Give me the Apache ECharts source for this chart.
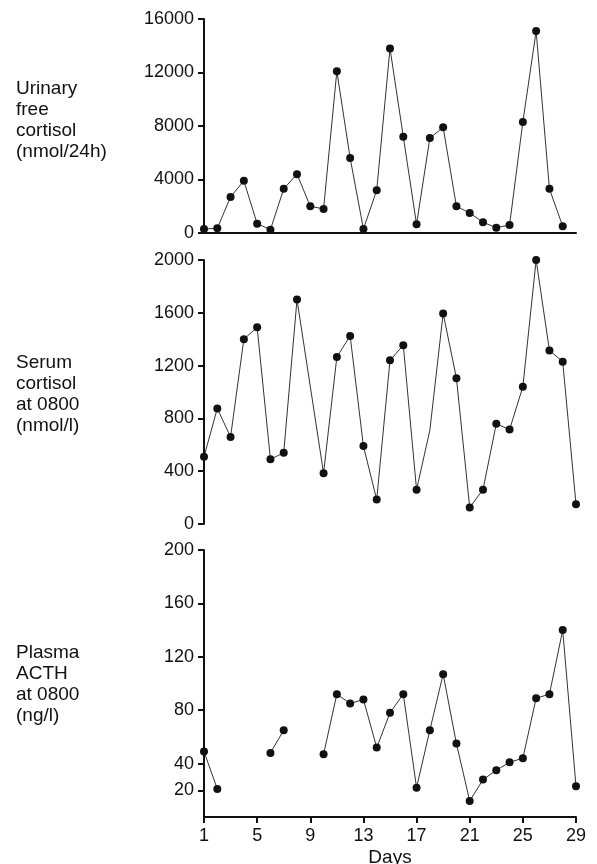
<!DOCTYPE html>
<html>
<head>
<meta charset="utf-8">
<script src="https://cdn.jsdelivr.net/npm/echarts@6/dist/echarts.min.js"></script>
<style>
html,body{margin:0;padding:0;background:#fff;}
#chart{width:597px;height:864px;}
</style>
</head>
<body>
<div id="chart"></div>
<script>
// ---- data ----
const days = [1,2,3,4,5,6,7,8,9,10,11,12,13,14,15,16,17,18,19,20,21,22,23,24,25,26,27,28,29];
const urinaryFreeCortisol = [300,350,2700,3900,700,250,3300,4400,2000,1800,12100,5600,300,3200,13800,7200,650,7100,7900,2000,1500,800,400,600,8300,15100,3300,500,null];
const serumCortisol = [510,875,660,1400,1490,490,540,1700,null,385,1265,1425,590,185,1240,1355,260,710,1595,1105,125,260,760,715,1040,2000,1315,1230,150];
const serumUnmarkedDays = [18];
const plasmaACTH = [49,21,null,null,null,48,65,null,null,47,92,85,88,52,78,92,22,65,107,55,12,28,35,41,44,89,92,140,23];
const urinaryTicks = [0,4000,8000,12000,16000];
const serumTicks = [0,400,800,1200,1600,2000];
const acthTicks = [20,40,80,120,160,200];
const dayLabels = [1,5,9,13,17,21,25,29];
const titles = [
  'Urinary\nfree\ncortisol\n(nmol/24h)',
  'Serum\ncortisol\nat 0800\n(nmol/l)',
  'Plasma\nACTH\nat 0800\n(ng/l)'
];
const xTitle = 'Days';

// ---- chart ----
const FONT = '"Liberation Sans", Arial, sans-serif';
const INK = '#111';
const chart = echarts.init(document.getElementById('chart'), null, {renderer: 'canvas'});
const plain = v => String(v);

function yAxisFor(idx, ticks, extra) {
  const min = 0, max = ticks[ticks.length - 1];
  return Object.assign({
    type: 'value', gridIndex: idx, min: min, max: max,
    interval: ticks[1] - ticks[0],
    splitLine: {show: false},
    axisLine: {show: true, lineStyle: {color: INK, width: 2}},
    axisTick: {show: true, inside: false, length: 6, lineStyle: {color: INK, width: 2}},
    axisLabel: {color: INK, fontFamily: FONT, fontSize: 18, margin: 10, formatter: plain}
  }, extra || {});
}

function xAxisFor(idx, showLine, showLabels) {
  return {
    type: 'category', gridIndex: idx, data: days, boundaryGap: false,
    axisLine: {show: showLine, lineStyle: {color: INK, width: 2}},
    axisTick: {show: showLabels, alignWithLabel: true, length: 6,
      interval: (i, v) => dayLabels.indexOf(Number(v)) >= 0,
      lineStyle: {color: INK, width: 2}},
    axisLabel: {show: showLabels, color: INK, fontFamily: FONT, fontSize: 18, margin: 10,
      interval: (i, v) => dayLabels.indexOf(Number(v)) >= 0},
    splitLine: {show: false},
    name: showLabels ? xTitle : '',
    nameLocation: 'middle', nameGap: 31,
    nameTextStyle: {color: INK, fontFamily: FONT, fontSize: 19}
  };
}

function lineSeries(idx, data, connect, unmarked) {
  return {
    type: 'line', xAxisIndex: idx, yAxisIndex: idx, data: data,
    connectNulls: connect,
    symbol: 'circle',
    symbolSize: (v, p) => (unmarked && unmarked.indexOf(days[p.dataIndex]) >= 0) ? 0 : 8,
    showAllSymbol: true,
    lineStyle: {color: '#333', width: 1},
    itemStyle: {color: INK, borderWidth: 0},
    animation: false
  };
}

function titleText(top, text) {
  return {
    type: 'text', left: 16, top: top,
    style: {text: text, fill: INK, font: '19px ' + FONT, lineHeight: 21}
  };
}

const gridBase = {left: 204, right: 21, containLabel: false, outerBoundsMode: 'none'};
const option = {
  backgroundColor: '#fff',
  animation: false,
  grid: [
    Object.assign({top: 19, height: 214}, gridBase),
    Object.assign({top: 260, height: 264}, gridBase),
    Object.assign({top: 550, height: 267}, gridBase)
  ],
  xAxis: [xAxisFor(0, true, false), xAxisFor(1, false, false), xAxisFor(2, true, true)],
  yAxis: [
    yAxisFor(0, urinaryTicks),
    yAxisFor(1, serumTicks),
    yAxisFor(2, [0].concat(acthTicks), {
      interval: 20,
      axisLabel: {color: INK, fontFamily: FONT, fontSize: 18, margin: 10, formatter: plain, customValues: acthTicks},
      axisTick: {show: true, length: 6, customValues: acthTicks, lineStyle: {color: INK, width: 2}}
    })
  ],
  series: [
    lineSeries(0, urinaryFreeCortisol, false),
    lineSeries(1, serumCortisol, true, serumUnmarkedDays),
    lineSeries(2, plasmaACTH, false)
  ],
  graphic: [
    titleText(78, titles[0]),
    titleText(352, titles[1]),
    titleText(642, titles[2])
  ]
};
chart.setOption(option);
</script>
</body>
</html>
